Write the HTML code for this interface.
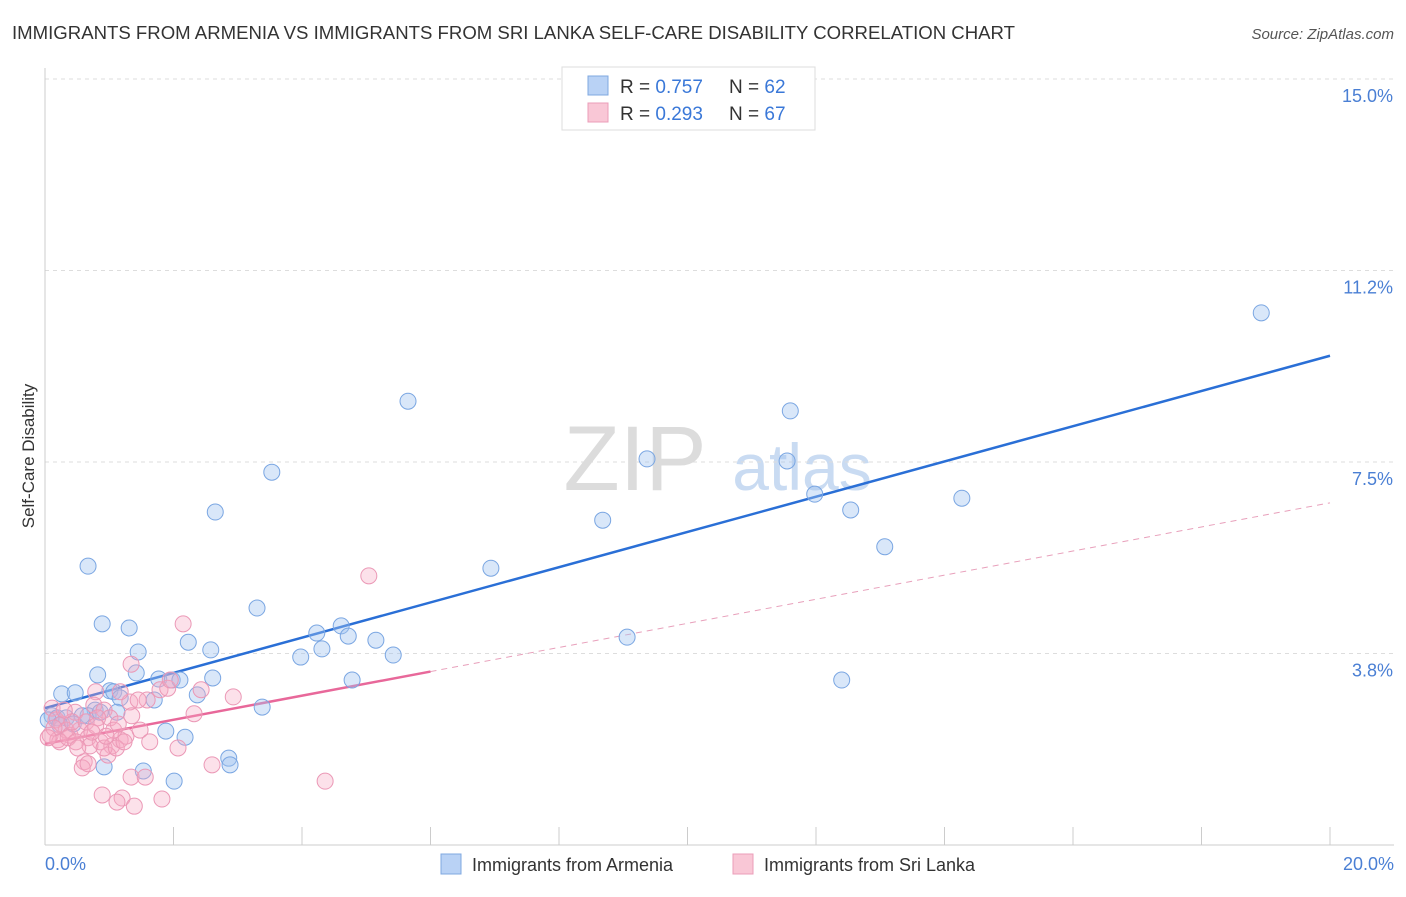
<!DOCTYPE html>
<html><head><meta charset="utf-8"><style>
body{margin:0;background:#fff;font-family:"Liberation Sans",sans-serif;}
svg text{font-family:"Liberation Sans",sans-serif;}
</style></head><body>
<svg id="chart" width="1406" height="892" xmlns="http://www.w3.org/2000/svg">
<text x="12" y="39" font-size="18" fill="#333" textLength="1003" lengthAdjust="spacingAndGlyphs">IMMIGRANTS FROM ARMENIA VS IMMIGRANTS FROM SRI LANKA SELF-CARE DISABILITY CORRELATION CHART</text>
<text x="1394" y="39" font-size="15" fill="#555" text-anchor="end" font-style="italic">Source: ZipAtlas.com</text>
<g>
<text x="635" y="490" font-size="92" fill="#dcdcdc" text-anchor="middle" font-family="Liberation Serif, serif">ZIP</text>
<text x="802" y="490" font-size="66" fill="#c9dbf2" text-anchor="middle">atlas</text>
</g>
<g id="grid"></g>
<g id="axes"></g>
<g id="lines"></g>
<g id="pts"></g>
<text transform="translate(34,456) rotate(-90)" font-size="17" fill="#333" text-anchor="middle">Self-Care Disability</text>
<text x="45" y="870" font-size="18" fill="#4a7fd4">0.0%</text>
<text x="1394" y="870" font-size="18" fill="#4a7fd4" text-anchor="end">20.0%</text>
<g>
<rect x="562" y="67" width="253" height="63" fill="#fff" stroke="#ddd"/>
<rect x="588" y="76" width="20" height="19" fill="#b9d2f5" stroke="#7fa8e0"/>
<rect x="588" y="103" width="20" height="19" fill="#f9c7d6" stroke="#eb9db8"/>
<text x="620" y="93" font-size="19" fill="#333">R = <tspan fill="#3a78d8">0.757</tspan></text>
<text x="729" y="93" font-size="19" fill="#333">N = <tspan fill="#3a78d8">62</tspan></text>
<text x="620" y="120" font-size="19" fill="#333">R = <tspan fill="#3a78d8">0.293</tspan></text>
<text x="729" y="120" font-size="19" fill="#333">N = <tspan fill="#3a78d8">67</tspan></text>
</g>
<g>
<rect x="441" y="854" width="20" height="20" fill="#b9d2f5" stroke="#7fa8e0"/>
<text x="472" y="871" font-size="18" fill="#333">Immigrants from Armenia</text>
<rect x="733" y="854" width="20" height="20" fill="#f9c7d6" stroke="#eb9db8"/>
<text x="764" y="871" font-size="18" fill="#333">Immigrants from Sri Lanka</text>
</g>
</svg>
<script>
const yTicks=[3.8,7.5,11.2,15.0];
const yTickVals=[3.75,7.5,11.25,15.0];
const xTicks=[0,2,4,6,8,10,12,14,16,18,20];
const armeniaX=[18.93,5.65,11.60,9.37,11.55,3.53,11.98,14.27,2.65,12.54,8.68,13.07,0.67,6.94,3.30,0.89,1.31,4.61,4.23,4.72,5.15,9.06,2.23,4.31,2.58,1.45,5.42,3.98,0.82,1.42,1.77,1.98,2.10,2.61,4.78,12.40,0.26,0.47,1.01,1.07,2.37,1.70,1.17,3.38,0.78,1.12,0.67,0.58,0.11,0.19,0.33,0.05,0.44,1.88,2.18,2.86,2.88,0.92,1.53,2.01,0.23,0.86];
const armeniaY=[10.42,8.69,8.50,7.56,7.52,7.30,6.87,6.79,6.52,6.56,6.36,5.84,5.46,5.42,4.64,4.33,4.25,4.29,4.15,4.09,4.01,4.07,3.97,3.84,3.82,3.78,3.72,3.68,3.33,3.37,3.25,3.23,3.23,3.27,3.23,3.23,2.96,2.98,3.02,3.00,2.94,2.84,2.88,2.70,2.64,2.60,2.53,2.53,2.53,2.49,2.49,2.45,2.37,2.23,2.11,1.70,1.57,1.53,1.45,1.25,2.35,2.60];
const sriLankaX=[5.04,2.15,1.34,1.79,1.91,2.43,2.93,1.32,1.59,0.79,1.17,0.76,0.92,2.32,0.47,1.01,0.11,0.17,0.26,0.33,0.39,0.54,0.08,0.20,0.67,0.86,1.04,1.17,1.26,2.07,0.98,0.61,0.58,0.67,2.60,1.34,1.56,0.89,1.20,1.12,1.39,1.82,4.36,0.23,0.36,0.48,0.70,0.92,1.11,1.23,0.42,0.82,1.48,1.63,0.64,0.30,0.14,0.51,0.79,1.07,1.35,1.95,0.73,0.95,0.05,1.14,1.45];
const sriLankaY=[5.27,4.33,3.54,3.04,3.07,3.04,2.90,2.80,2.84,3.00,3.00,2.74,2.64,2.57,2.60,2.49,2.68,2.45,2.37,2.25,2.15,2.25,2.15,2.06,2.10,2.02,1.94,2.06,2.13,1.90,1.76,1.63,1.51,1.59,1.57,1.33,1.33,0.98,0.92,0.84,0.76,0.90,1.25,2.02,2.10,2.02,1.94,1.90,1.90,2.02,2.41,2.49,2.25,2.02,2.41,2.64,2.29,1.90,2.33,2.25,2.53,3.23,2.21,2.13,2.10,2.37,2.84];
const trendIntercept=[2.68,1.98];
const trendSlope=[0.345,0.236];
const NS='http://www.w3.org/2000/svg';
const X=v=>45+v*64.25, Y=v=>845-v*51.07;
function mk(tag,a,p){const e=document.createElementNS(NS,tag);for(const k in a)e.setAttribute(k,a[k]);p.appendChild(e);return e;}
const grid=document.getElementById('grid'),axes=document.getElementById('axes'),lines=document.getElementById('lines'),pts=document.getElementById('pts');
yTickVals.forEach((v,i)=>{
 const l=mk('line',{x1:45,x2:1394,y1:Y(v),y2:Y(v),stroke:'#ddd','stroke-dasharray':'4,4'},grid);
 
 
 const t=mk('text',{x:1393,y:Y(v)+23,'font-size':18,fill:'#4a7fd4','text-anchor':'end'},axes);
 t.textContent=yTicks[i].toFixed(1)+'%';
 
 
});
const yax=mk('line',{x1:45,x2:45,y1:68,y2:845,stroke:'#ccc'},axes);


const xax=mk('line',{x1:45,x2:1394,y1:845,y2:845,stroke:'#ccc'},axes);


xTicks.forEach(v=>{
 const t=mk('line',{x1:X(v),x2:X(v),y1:827,y2:845,stroke:'#ccc'},axes);
 
 
});
function dots(xs,ys,fill,stroke,name){xs.forEach((x,i)=>{
 const c=mk('circle',{cx:X(x),cy:Y(ys[i]),r:8,fill:fill,stroke:stroke,'stroke-width':1},pts);
 
 
});}
dots(armeniaX,armeniaY,'rgba(160,195,240,0.4)','#7aa6e2','armenia-point');
dots(sriLankaX,sriLankaY,'rgba(245,170,195,0.35)','#eb98b6','sri-lanka-point');
const b=mk('line',{x1:X(0),y1:Y(trendIntercept[0]),x2:X(20),y2:Y(trendIntercept[0]+20*trendSlope[0]),stroke:'#2a6fd6','stroke-width':2.5},lines);


const p1=mk('line',{x1:X(0),y1:Y(trendIntercept[1]),x2:X(6),y2:Y(trendIntercept[1]+6*trendSlope[1]),stroke:'#e8689a','stroke-width':2.5},lines);


const p2=mk('line',{x1:X(6),y1:Y(trendIntercept[1]+6*trendSlope[1]),x2:X(20),y2:Y(trendIntercept[1]+20*trendSlope[1]),stroke:'#e8a0bb','stroke-width':1,'stroke-dasharray':'6,5'},lines);


</script>
</body></html>
